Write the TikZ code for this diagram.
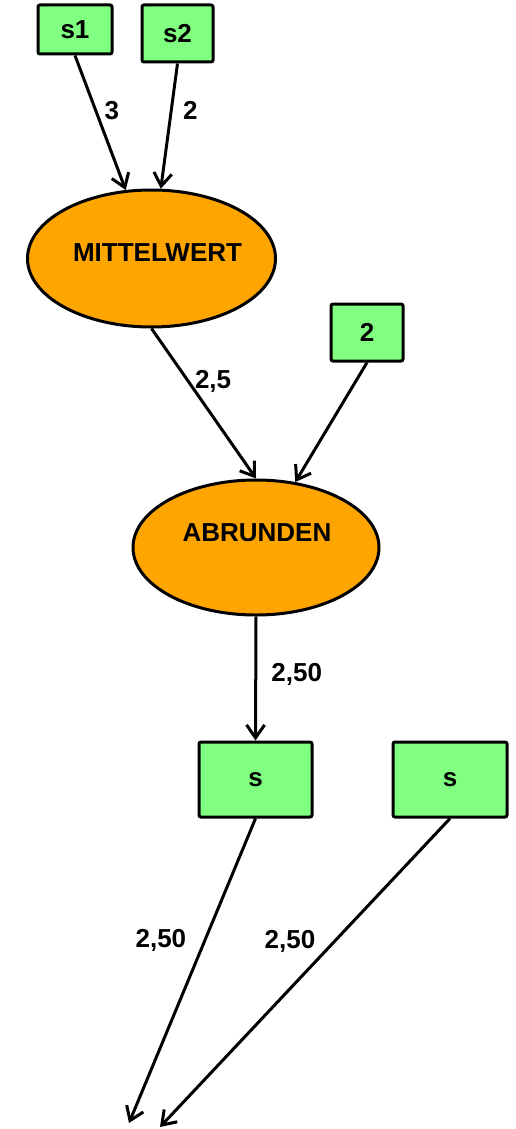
\documentclass[tikz,border=0pt]{standalone}
\usepackage{fontspec}
\setmainfont{Liberation Sans}
\usetikzlibrary{shapes.geometric,arrows.meta}
\definecolor{boxgreen}{HTML}{80FF80}
\definecolor{nodeorange}{HTML}{FFA500}
\tikzset{
  every node/.style={font=\fontsize{26}{30}\selectfont\bfseries},
  valbox/.style={draw, line width=3pt, rounded corners=2pt, fill=boxgreen, inner sep=0pt},
  opnode/.style={draw, ellipse, line width=3pt, fill=nodeorange, inner sep=0pt},
  optext/.style={inner sep=0pt},
  flow/.style={line width=3pt, -{Straight Barb[length=13pt,width=18pt,line width=3pt]}},
  wt/.style={inner sep=0pt}
}
\begin{document}
\begin{tikzpicture}[x=1pt,y=-1pt]
\useasboundingbox (0,0) rectangle (516,1129);

% inputs
\node[valbox, minimum width=74pt, minimum height=49pt] (s1) at (75,29.5) {s1};
\node[valbox, minimum width=71pt, minimum height=57pt] (s2) at (177.5,33.5) {s2};
\node[valbox, minimum width=72pt, minimum height=57pt] (c2) at (367,332.5) {2};

% operations
\node[opnode, minimum width=248pt, minimum height=137pt,
      label={[optext, xshift=6pt, yshift=6pt]center:MITTELWERT}] (mw) at (151.5,258.5) {};
\node[opnode, minimum width=246pt, minimum height=135pt,
      label={[optext, xshift=1pt, yshift=15pt]center:ABRUNDEN}] (ab) at (256,547.5) {};

% outputs
\node[valbox, minimum width=113pt, minimum height=75pt] (out1) at (255.5,779.5) {s};
\node[valbox, minimum width=114pt, minimum height=75pt] (out2) at (450,779.5) {s};

\coordinate (end1) at (129,1123);
\coordinate (end2) at (160,1127);

% connectors
\draw[flow] (s1.south) -- node[wt, pos=0.41, xshift=16pt] {3} (mw);
\draw[flow] (s2.south) -- node[wt, pos=0.375, xshift=19pt] {2} (mw);
\draw[flow] (mw.south) -- node[wt, pos=0.35, xshift=25pt] {2,5} (ab.north);
\draw[flow] (c2.south) -- (ab);
\draw[flow] (ab.south) -- node[wt, pos=0.47, xshift=41pt] {2,50} (out1.north);
\draw[flow] (out1.south) -- node[wt, pos=0.40, xshift=-44pt] {2,50} (end1);
\draw[flow] (out2.south) -- node[wt, pos=0.40, xshift=-44pt] {2,50} (end2);
\end{tikzpicture}
\end{document}
